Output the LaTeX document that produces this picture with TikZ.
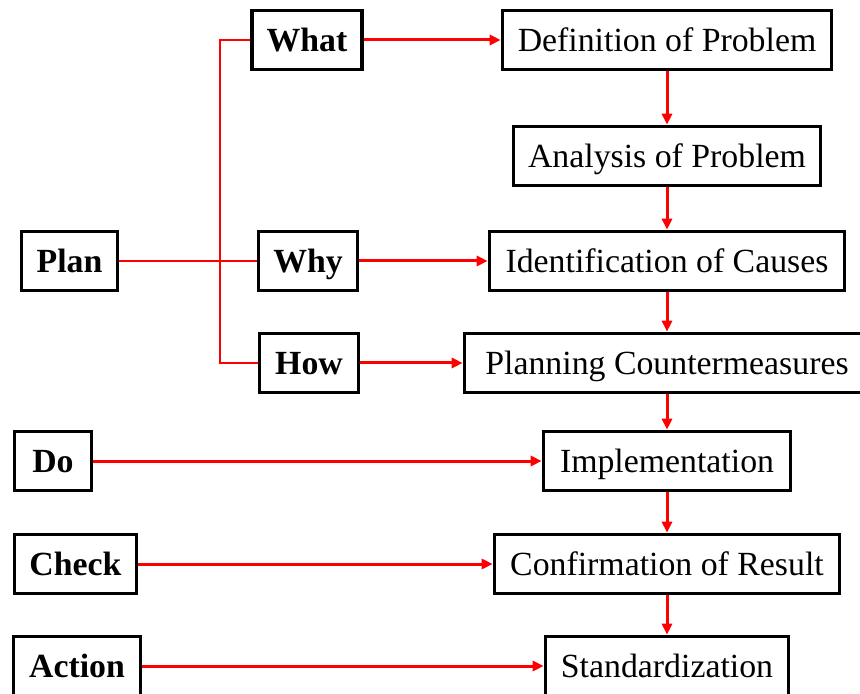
\documentclass[tikz,border=0pt]{standalone}
\usepackage{fontspec}
\setmainfont{Liberation Serif}
\usetikzlibrary{arrows.meta}
\begin{document}
\begin{tikzpicture}[x=0.5pt,y=-0.5pt,
  box/.style={draw=black,line width=1.8pt,inner sep=0pt,minimum height=29.5pt,
    text height=11.2pt,text depth=0pt,
    font=\fontsize{16.9}{20}\selectfont,fill=white},
  keybox/.style={box,font=\fontsize{16.9}{20}\selectfont\bfseries},
  link/.style={draw=red,line width=1.1pt},
  flow/.style={draw=red,line width=1.5pt,-{Triangle[length=5.5pt,width=5pt]}}]
\useasboundingbox[fill=white] (0,0) rectangle (860,694);

% left column: PDCA stages and the three questions
\node[keybox,minimum width=48pt] (plan)   at (69.5,261) {Plan};
\node[keybox,minimum width=55pt] (what)   at (307,40)   {What};
\node[keybox,minimum width=49.5pt] (why)  at (308,261)  {Why};
\node[keybox,minimum width=49.5pt] (how)  at (309,363)  {How};
\node[keybox,minimum width=38.5pt] (do)   at (53,461)   {Do};
\node[keybox,minimum width=61pt] (check)  at (75.5,564) {Check};
\node[keybox,minimum width=63.5pt] (action) at (77,666) {Action};

% right column: process steps
\node[box,minimum width=164.5pt] (def)   at (667,40)  {Definition of Problem};
\node[box,minimum width=153.5pt] (ana)   at (667,156) {Analysis of Problem};
\node[box,minimum width=177.5pt] (ident) at (667,261) {Identification of Causes};
\node[box,minimum width=202.5pt] (plng)  at (667,363) {Planning Countermeasures};
\node[box,minimum width=123.5pt] (impl)  at (667,461) {Implementation};
\node[box,minimum width=172.5pt] (conf)  at (667,564) {Confirmation of Result};
\node[box,minimum width=121.5pt] (std)   at (667,666) {Standardization};

% bus joining the three questions
\coordinate (busTop) at (220,40);
\coordinate (busBot) at (220,363);
\draw[link] (what.west) -- (busTop) -- (busBot) -- (how.west);
\draw[link] (plan.east) -- (why.west);

% horizontal feeds
\draw[flow] (what.east) -- (def.west);
\draw[flow] (why.east) -- (ident.west);
\draw[flow] (how.east) -- (plng.west);
\draw[flow] (do.east) -- (impl.west);
\draw[flow] (check.east) -- (conf.west);
\draw[flow] (action.east) -- (std.west);

% vertical chain
\draw[flow] (def.south) -- (ana.north);
\draw[flow] (ana.south) -- (ident.north);
\draw[flow] (ident.south) -- (plng.north);
\draw[flow] (plng.south) -- (impl.north);
\draw[flow] (impl.south) -- (conf.north);
\draw[flow] (conf.south) -- (std.north);
\end{tikzpicture}
\end{document}
